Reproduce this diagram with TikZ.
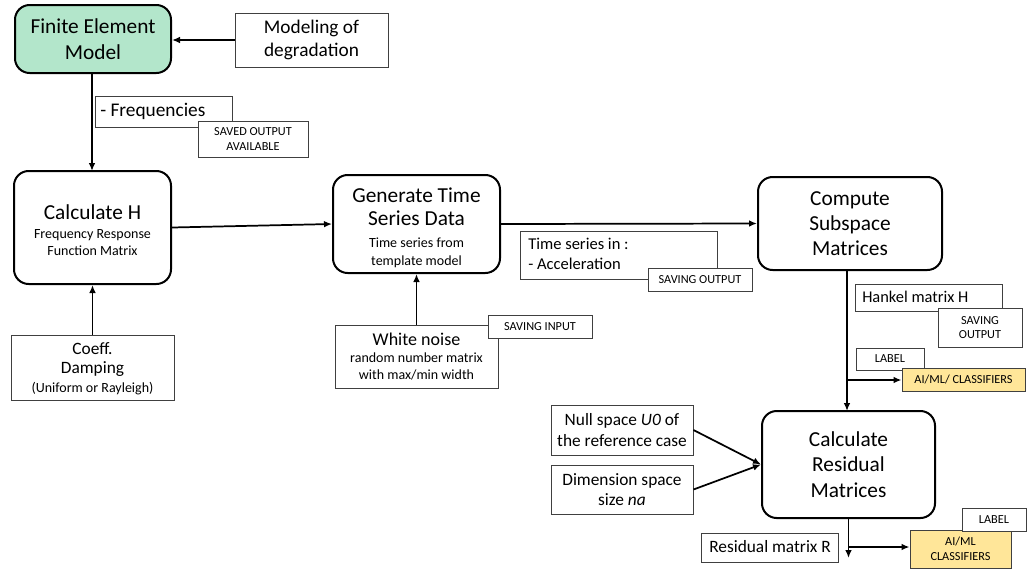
\documentclass[tikz,border=0pt]{standalone}
\usepackage{fontspec}
\setmainfont{Carlito}
\usetikzlibrary{arrows.meta}
\def\px{0.75pt}
\definecolor{femgreen}{HTML}{B3E6CB}
\definecolor{clsyellow}{HTML}{FFE699}
\definecolor{boxline}{HTML}{404040}
\newcommand\fs[2]{\fontsize{#1}{#2}\selectfont}
\begin{document}
\begin{tikzpicture}[x=0.75pt,y=-0.75pt,
  stagebox/.style={draw, line width=1.5pt, rounded corners=11pt, align=center, inner sep=0pt},
  infobox/.style={draw=boxline, line width=0.7pt, fill=white, align=center, inner sep=0pt},
  note/.style={inner sep=0pt, anchor=west, align=left},
  flow/.style={line width=1.3pt, -{Latex[length=6pt,width=5pt]}},
  big/.style={font=\fs{16}{19}},
  mid/.style={font=\fs{13}{15.5}},
  small/.style={font=\fs{10.5}{12.75}},
  tag/.style={font=\fs{9.2}{11}}]
\useasboundingbox (0,0) rectangle (1027,569);

% --- model and transfer function stage
\node[stagebox, fill=femgreen, big, minimum width=156*\px, minimum height=68*\px] (fem) at (93,39) {Finite Element\\Model};
\node[infobox, font=\fs{14.5}{17.5}, minimum width=153*\px, minimum height=54*\px] (mod) at (311.5,40) {Modeling of\\degradation};
\node[infobox, minimum width=137*\px, minimum height=31*\px] (freq) at (163.5,111.5) {};
\node[note, font=\fs{14.5}{17}] (freqtxt) at (100,111) {- Frequencies};
\node[infobox, tag, minimum width=110*\px, minimum height=36*\px] (saved) at (253,139) {SAVED OUTPUT\\AVAILABLE};

\node[stagebox, small, minimum width=157*\px, minimum height=113*\px] (calch) at (92.5,227.5)
  {\fs{16}{19}\rule{0pt}{15pt}Calculate H\\[1.5pt]\fs{10.5}{12.75}Frequency Response\\\fs{10.5}{12.75}Function Matrix};
\node[infobox, small, minimum width=163*\px, minimum height=65*\px] (coeff) at (92.5,367.5)
  {\fs{13}{14}\rule{0pt}{11pt}Coeff.\\[2pt]\fs{13}{14}Damping\\[1.5pt]\fs{10.5}{13}(Uniform or Rayleigh)};

% --- time series stage
\node[stagebox, small, minimum width=167*\px, minimum height=98*\px] (gen) at (416.5,224)
  {\fs{16}{19}\rule{0pt}{16.5pt}Generate Time\\[4.5pt]\fs{16}{19}Series Data\\[3.5pt]\fs{10.5}{12.75}Time series from\\[1pt]\fs{10.5}{12.75}template model};
\node[infobox, small, minimum width=163*\px, minimum height=63*\px] (wn) at (416.5,356.5)
  {\fs{13.5}{15}White noise\\\fs{10.5}{12.5}random number matrix\\\fs{10.5}{12.5}with max/min width};
\node[infobox, tag, minimum width=104*\px, minimum height=23*\px] (sin) at (540,326.5) {SAVING INPUT};

\node[infobox, minimum width=197*\px, minimum height=48*\px] (ts) at (618.5,255) {};
\node[note, font=\fs{12.4}{15.5}] (tstxt) at (528,254) {Time series in :\\- Acceleration};
\node[infobox, tag, minimum width=104*\px, minimum height=23*\px] (sout) at (700,279.5) {SAVING OUTPUT};

% --- subspace stage
\node[stagebox, big, minimum width=184*\px, minimum height=93*\px] (comp) at (850,223.5) {Compute\\Subspace\\Matrices};
\node[infobox, minimum width=147*\px, minimum height=27*\px] (hank) at (928.5,297.5) {};
\node[note, font=\fs{12.3}{15.5}] (hanktxt) at (862,297) {Hankel matrix H};
\node[infobox, tag, minimum width=84*\px, minimum height=39*\px] (sout2) at (980,327.5) {SAVING\\OUTPUT};
\node[infobox, tag, minimum width=68*\px, minimum height=22*\px] (lab1) at (890,359) {LABEL};
\node[infobox, tag, fill=clsyellow, minimum width=123*\px, minimum height=23*\px] (cls1) at (963.5,379.5) {AI/ML/ CLASSIFIERS};

% --- residual stage
\node[stagebox, big, minimum width=173*\px, minimum height=107*\px] (res) at (848.5,464.5) {Calculate\\Residual\\Matrices};
\node[infobox, mid, minimum width=142*\px, minimum height=50*\px] (null) at (622,430) {Null space \textit{U0} of\\the reference case};
\node[infobox, mid, minimum width=142*\px, minimum height=49*\px] (dim) at (622,489.5) {Dimension space\\size \textit{na}};
\node[infobox, minimum width=137*\px, minimum height=29*\px] (rmat) at (769.5,547.5) {};
\node[note, font=\fs{13}{15.5}] (rmattxt) at (709,547) {Residual matrix R};
\node[infobox, tag, fill=clsyellow, minimum width=101*\px, minimum height=38*\px] (cls2) at (960.5,549) {AI/ML\\CLASSIFIERS};
\node[infobox, tag, minimum width=64*\px, minimum height=23*\px] (lab2) at (994,519.5) {LABEL};

% --- connectors
\coordinate (b1) at (847,380);
\coordinate (b2) at (848.5,547);
\coordinate (rend) at (848.5,558);
\draw[flow] (mod.west) -- (mod.west -| fem.east);
\draw[flow] (92,73) -- (92,171);
\draw[flow] (coeff.north) -- (calch.south);
\draw[flow] (calch.east) -- (gen.west);
\draw[flow] (wn.north) -- (gen.south);
\draw[flow] (gen.east) -- (comp.west);
\draw[flow] (847,270) -- (847,411);
\draw[flow] (b1) -- (b1 -| cls1.west);
\draw[flow] (null.east) -- (res.west);
\draw[flow] (dim.east) -- (res.west);
\draw[flow] (res.south) -- (rend);
\draw[flow] (b2) -- (b2 -| cls2.west);
\end{tikzpicture}
\end{document}
